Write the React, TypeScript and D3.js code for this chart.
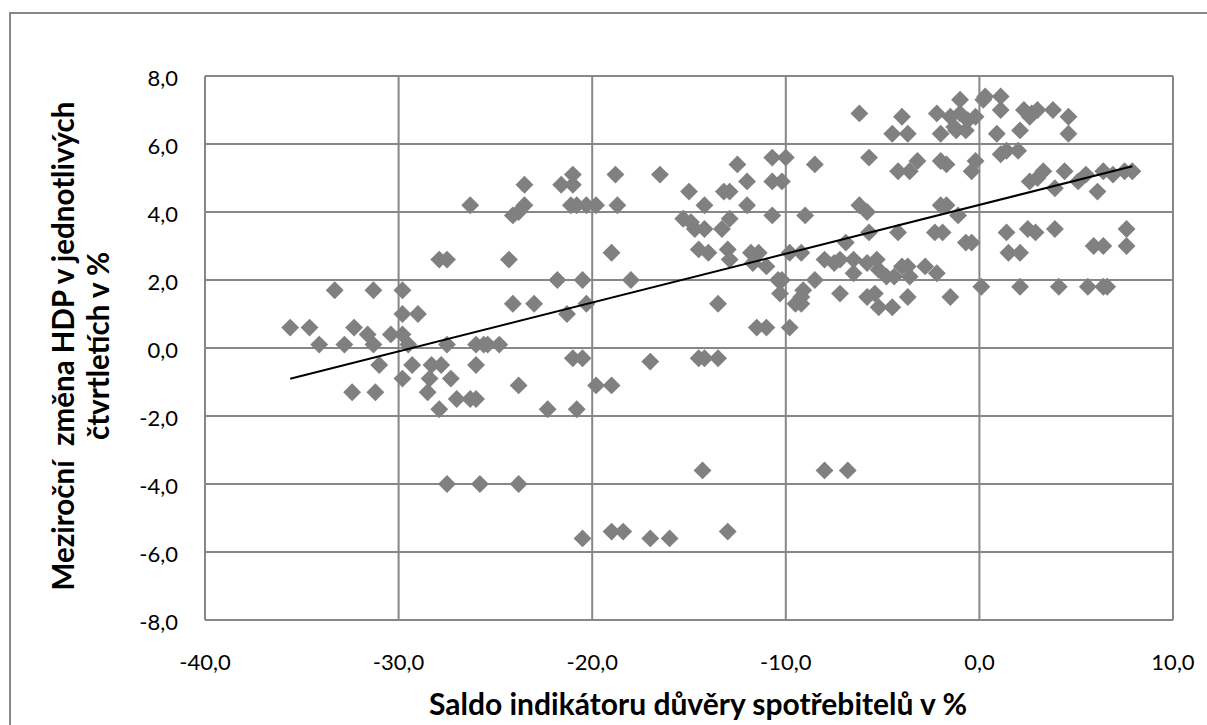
import React from 'react';
import * as d3 from 'd3';

// Saldo indikátoru důvěry spotřebitelů (x) a meziroční změna HDP (y)
const confidenceBalance = [
  -18.8, -23.5, -21.0, -21.6, -21.0, -26.3, -24.1, -23.8, -23.5, -21.1,
  -20.8, -20.3, -19.8, -18.7, -19.0, -27.9, -27.5, -24.3, -21.8, -20.5,
  -33.3, -31.3, -29.8, -24.1, -23.0, -21.3, -20.3, -29.8, -29.0, -35.6,
  -34.6, -32.3, -31.6, -30.4, -29.8, -34.1, -32.8, -31.3, -29.5, -27.5,
  -26.0, -25.6, -25.4, -24.8, -21.0, -20.5, -31.0, -29.3, -28.3, -27.8,
  -26.0, -29.8, -28.4, -27.3, -32.4, -31.2, -28.5, -23.8, -19.8, -19.0,
  -27.0, -26.3, -26.0, -27.9, -22.3, -20.8, -27.5, -25.8, -23.8, -20.5,
  -19.0, -18.4, -17.0, -14.5, -14.2, -13.5, -14.3, -8.0, -6.8, -17.0,
  -16.0, -13.0, -6.2, -1.0, 0.3, -4.0, -2.2, -1.5, -1.0, -0.6,
  -0.2, -4.5, -3.7, -2.0, -1.2, -0.7, 0.9, -10.7, -10.0, -5.7,
  -12.5, -8.5, -4.2, -3.6, -3.2, -2.0, -1.7, -0.4, -0.2, -16.5,
  -15.0, -13.2, -12.9, -12.0, -10.7, -10.2, -14.2, -12.0, -6.2, -5.8,
  -2.0, -1.7, -1.1, -10.7, -9.0, -15.3, -14.9, -12.9, -14.7, -14.2,
  -13.3, -4.2, -2.3, -1.9, -0.7, -0.4, -6.9, -5.7, -14.5, -14.0,
  -13.0, -11.8, -11.4, -9.8, -9.2, -12.9, -11.7, -11.0, -8.0, -7.5,
  -7.2, -6.5, -6.5, -5.8, -5.3, -5.2, -4.8, -4.4, -4.0, -3.7,
  -3.6, -2.8, -2.2, -18.0, -10.4, -10.2, -8.5, -10.3, -9.1, -9.2,
  -9.5, -9.2, -7.2, -5.8, -5.4, -5.2, -4.5, -3.7, -1.5, 0.1,
  -13.5, -11.5, -11.0, -9.8, 0.2, 1.1, -1.3, 1.1, 2.3, 2.7,
  3.0, 3.8, 4.6, 2.6, 2.1, 4.6, 1.1, 1.4, 2.0, 2.6,
  3.0, 3.3, 3.9, 4.4, 5.1, 5.5, 6.1, 6.4, 6.9, 7.5,
  7.9, 1.4, 2.5, 2.9, 3.9, 1.5, 2.1, 5.9, 6.4, 7.6,
  7.6, 2.1, 4.1, 5.6, 6.4, 6.6,
];

const gdpChange = [
  5.1, 4.8, 5.1, 4.8, 4.8, 4.2, 3.9, 4.0, 4.2, 4.2,
  4.2, 4.2, 4.2, 4.2, 2.8, 2.6, 2.6, 2.6, 2.0, 2.0,
  1.7, 1.7, 1.7, 1.3, 1.3, 1.0, 1.3, 1.0, 1.0, 0.6,
  0.6, 0.6, 0.4, 0.4, 0.4, 0.1, 0.1, 0.1, 0.1, 0.1,
  0.1, 0.1, 0.1, 0.1, -0.3, -0.3, -0.5, -0.5, -0.5, -0.5,
  -0.5, -0.9, -0.9, -0.9, -1.3, -1.3, -1.3, -1.1, -1.1, -1.1,
  -1.5, -1.5, -1.5, -1.8, -1.8, -1.8, -4.0, -4.0, -4.0, -5.6,
  -5.4, -5.4, -0.4, -0.3, -0.3, -0.3, -3.6, -3.6, -3.6, -5.6,
  -5.6, -5.4, 6.9, 7.3, 7.4, 6.8, 6.9, 6.8, 6.9, 6.7,
  6.8, 6.3, 6.3, 6.3, 6.4, 6.4, 6.3, 5.6, 5.6, 5.6,
  5.4, 5.4, 5.2, 5.2, 5.5, 5.5, 5.4, 5.2, 5.5, 5.1,
  4.6, 4.6, 4.6, 4.9, 4.9, 4.9, 4.2, 4.2, 4.2, 4.0,
  4.2, 4.2, 3.9, 3.9, 3.9, 3.8, 3.7, 3.8, 3.5, 3.5,
  3.5, 3.4, 3.4, 3.4, 3.1, 3.1, 3.1, 3.4, 2.9, 2.8,
  2.9, 2.8, 2.8, 2.8, 2.8, 2.6, 2.5, 2.4, 2.6, 2.5,
  2.6, 2.6, 2.2, 2.5, 2.6, 2.3, 2.1, 2.1, 2.4, 2.4,
  2.1, 2.4, 2.2, 2.0, 2.0, 2.0, 2.0, 1.6, 1.7, 1.5,
  1.3, 1.3, 1.6, 1.5, 1.6, 1.2, 1.2, 1.5, 1.5, 1.8,
  1.3, 0.6, 0.6, 0.6, 7.3, 7.4, 6.5, 7.0, 7.0, 6.9,
  7.0, 7.0, 6.8, 6.8, 6.4, 6.3, 5.7, 5.8, 5.8, 4.9,
  5.0, 5.2, 4.7, 5.2, 4.9, 5.1, 4.6, 5.2, 5.1, 5.2,
  5.2, 3.4, 3.5, 3.4, 3.5, 2.8, 2.8, 3.0, 3.0, 3.5,
  3.0, 1.8, 1.8, 1.8, 1.8, 1.8,
];

const xTicks = [-40, -30, -20, -10, 0, 10];
const yTicks = [-8, -6, -4, -2, 0, 2, 4, 6, 8];

// lineární trend
const trendSlope = 0.1437;
const trendIntercept = 4.21;

const xTitle = 'Saldo indikátoru důvěry spotřebitelů v %';
const yTitleLines = ['Meziroční  změna HDP v jednotlivých', 'čtvrtletích v %'];

const W = 1207;
const H = 725;
const plot = { left: 205, right: 1173, top: 76, bottom: 620 };
const gridColor = '#878787';
const font = 'Lato, "Open Sans", sans-serif';

const fmt = (v: number) => v.toFixed(1).replace('.', ',');

export default function App() {
  const x = d3.scaleLinear().domain([-40, 10]).range([plot.left, plot.right]);
  const y = d3.scaleLinear().domain([-8, 8]).range([plot.bottom, plot.top]);

  const points = confidenceBalance.map((cx, i) => ({ cx, cy: gdpChange[i] }));
  const diamond = d3.symbol().type(d3.symbolSquare).size(160)() || '';

  const [minX, maxX] = d3.extent(confidenceBalance) as [number, number];
  const trend = d3.line<number>()
    .x(d => x(d))
    .y(d => y(trendIntercept + trendSlope * d))([minX, maxX]) || '';

  return (
    <svg
      width={W}
      height={H}
      style={{ position: 'absolute', left: 0, top: 0, background: '#fff' }}
      fontFamily={font}
    >
      <rect x={10} y={13} width={1220} height={740} fill="#fff" stroke={gridColor} strokeWidth={2} />

      {/* mřížka */}
      {yTicks.map(t => (
        <line key={'gy' + t} x1={plot.left} x2={plot.right} y1={y(t)} y2={y(t)} stroke={gridColor} strokeWidth={2} />
      ))}
      {xTicks.map(t => (
        <line key={'gx' + t} x1={x(t)} x2={x(t)} y1={plot.top} y2={plot.bottom} stroke={gridColor} strokeWidth={2} />
      ))}

      {/* popisky os */}
      {yTicks.map(t => (
        <text key={'ly' + t} x={178} y={y(t) + 2} dy="0.35em" textAnchor="end" fontSize={22} fill="#000">
          {fmt(t)}
        </text>
      ))}
      {xTicks.map(t => (
        <text key={'lx' + t} x={x(t)} y={662} dy="0.35em" textAnchor="middle" fontSize={22} fill="#000">
          {fmt(t)}
        </text>
      ))}

      {/* body */}
      {points.map((p, i) => (
        <path
          key={i}
          d={diamond}
          transform={`translate(${x(p.cx)},${y(p.cy)}) rotate(45)`}
          fill="#808080"
        />
      ))}

      <path d={trend} fill="none" stroke="#000" strokeWidth={2} />

      <text x={698} y={715} textAnchor="middle" fontSize={30} fontWeight="bold">
        {xTitle}
      </text>
      {yTitleLines.map((line, i) => (
        <text
          key={i}
          transform={`translate(${74 + i * 35},346) rotate(-90)`}
          textAnchor="middle"
          fontSize={29.5}
          fontWeight="bold"
          style={{ whiteSpace: 'pre' }}
        >
          {line}
        </text>
      ))}
    </svg>
  );
}
